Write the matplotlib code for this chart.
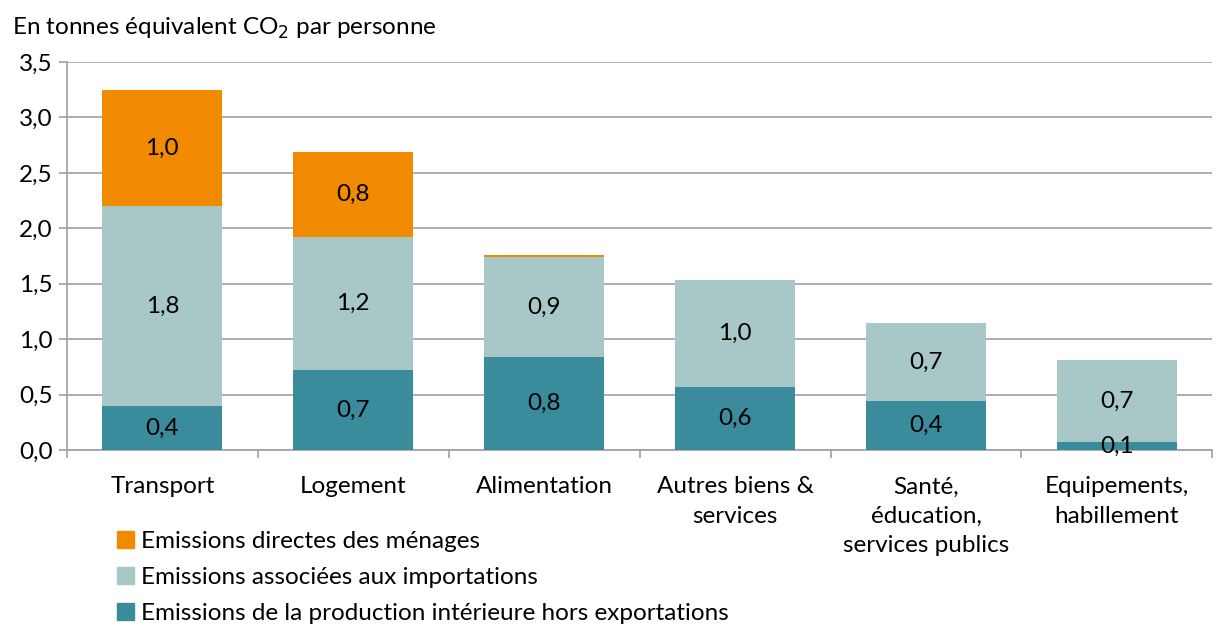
import numpy as np
import matplotlib.pyplot as plt
from matplotlib.patches import Patch

plt.rcParams['font.family'] = ['Lato', 'DejaVu Sans']

categories = ['Transport', 'Logement', 'Alimentation', 'Autres biens &\nservices',
              'Santé,\néducation,\nservices publics', 'Equipements,\nhabillement']
domestic = [0.40, 0.72, 0.84, 0.57, 0.44, 0.07]
imports = [1.80, 1.20, 0.90, 0.96, 0.71, 0.74]
direct = [1.05, 0.77, 0.02, 0.0, 0.0, 0.0]

dom_labels = ['0,4', '0,7', '0,8', '0,6', '0,4', '0,1']
imp_labels = ['1,8', '1,2', '0,9', '1,0', '0,7', '0,7']
dir_labels = ['1,0', '0,8', '', '', '', '']

names = ['Emissions directes des ménages',
         'Emissions associées aux importations',
         'Emissions de la production intérieure hors exportations']
c_dir = '#F28A00'
c_imp = '#A8C8C7'
c_dom = '#3A8B9C'

fig = plt.figure(figsize=(12.16, 6.26), dpi=100)
ax = fig.add_axes([0.055, 0.281, 0.942, 0.62])

x = np.arange(len(categories))
w = 0.63
dom = np.array(domestic)
imp = np.array(imports)
dr = np.array(direct)
ax.bar(x, dom, w, color=c_dom, zorder=3)
ax.bar(x, imp, w, bottom=dom, color=c_imp, zorder=3)
ax.bar(x, dr, w, bottom=dom + imp, color=c_dir, zorder=3)

fs = 17.5
for i in range(len(x)):
    ax.text(x[i], dom[i] / 2, dom_labels[i], ha='center', va='center', fontsize=fs, zorder=4)
    ax.text(x[i], dom[i] + imp[i] / 2, imp_labels[i], ha='center', va='center', fontsize=fs, zorder=4)
    if dir_labels[i]:
        ax.text(x[i], dom[i] + imp[i] + dr[i] / 2, dir_labels[i], ha='center', va='center',
                fontsize=fs, zorder=4)

ax.set_xlim(-0.48, 5.5)
ax.set_ylim(0, 3.5)
ax.set_yticks(np.arange(0, 3.51, 0.5))
ax.set_yticklabels([f'{v:.1f}'.replace('.', ',') for v in np.arange(0, 3.51, 0.5)], fontsize=fs)
ax.yaxis.grid(True, color='#A0A0A0', linewidth=1.2, zorder=0)
ax.set_xticks(x)
ax.set_xticklabels(categories, fontsize=fs, linespacing=1.5, va='top')
ax.tick_params(axis='x', length=0, pad=19)
ax.set_xticks(np.arange(-0.5, 5.6, 1), minor=True)
ax.tick_params(axis='x', which='minor', length=6, color='#A0A0A0', width=1.2)
ax.tick_params(axis='y', length=6, color='#A0A0A0', width=1.2, pad=4)
for s in ['top', 'right']:
    ax.spines[s].set_visible(False)
for s in ['left', 'bottom']:
    ax.spines[s].set_color('#A0A0A0')
    ax.spines[s].set_linewidth(1.2)

fig.text(0.01, 0.955, 'En tonnes équivalent CO$_2$ par personne', fontsize=fs, va='center')

handles = [Patch(color=c_dir), Patch(color=c_imp), Patch(color=c_dom)]
fig.legend(handles, names, loc='upper left', bbox_to_anchor=(0.088, 0.167), frameon=False,
           fontsize=fs, handlelength=0.7, handleheight=0.7, handletextpad=0.3,
           labelspacing=0.62, borderaxespad=0)

fig.savefig('out.png', dpi=100)
